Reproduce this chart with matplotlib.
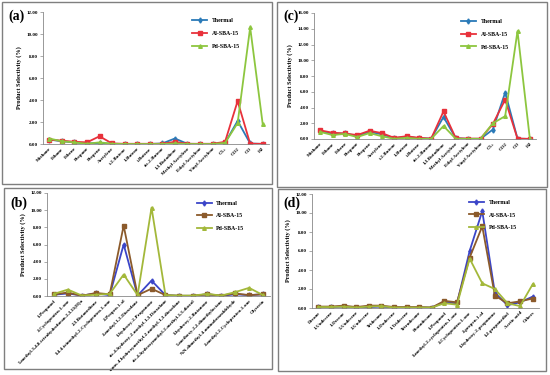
import numpy as np
import matplotlib
matplotlib.use('Agg')
import matplotlib.pyplot as plt
from matplotlib.patches import Rectangle
from matplotlib.ticker import FormatStrFormatter

plt.rcParams['font.family'] = ['Liberation Serif', 'DejaVu Serif']

W, H = 550, 375

# ---- panel (a) ----
cats_a = ['Methane', 'Ethane', 'Ethene', 'Propane', 'Propene', 'Acetylene',
          't-2-Butene', '1-Butene', 'i-Butene', 'cis-2-Butene', '1,3-Butadiene',
          'Methyl Acetylene', 'Ethyl Acetylene', 'Vinyl Acetylene', 'C5+',
          'CO2', 'CO', 'H2']
thermal_a = [0.4, 0.25, 0.15, 0.05, 0.1, 0.02, 0.0, 0.0, 0.0, 0.05, 0.5,
             0.02, 0.0, 0.0, 0.1, 2.1, 0.05, 0.0]
al_a = [0.4, 0.3, 0.2, 0.15, 0.7, 0.05, 0.02, 0.02, 0.02, 0.02, 0.2,
        0.02, 0.02, 0.02, 0.2, 3.9, 0.02, 0.02]
pd_a = [0.5, 0.25, 0.15, 0.02, 0.15, 0.02, 0.0, 0.0, 0.0, 0.0, 0.05,
        0.0, 0.0, 0.0, 0.1, 1.9, 10.6, 1.8]

# ---- panel (c) ----
cats_c = cats_a
thermal_c = [1.0, 0.7, 0.7, 0.4, 0.9, 0.6, 0.1, 0.3, 0.1, 0.05, 2.8,
             0.1, 0.02, 0.02, 1.2, 5.9, 0.05, 0.0]
al_c = [1.1, 0.8, 0.7, 0.5, 1.05, 0.75, 0.15, 0.35, 0.15, 0.05, 3.5,
        0.1, 0.05, 0.05, 1.9, 5.0, 0.05, 0.02]
pd_c = [0.9, 0.5, 0.65, 0.25, 0.75, 0.35, 0.02, 0.15, 0.02, 0.02, 1.65,
        0.02, 0.02, 0.02, 2.0, 2.9, 13.7, 0.05]

# ---- panel (b) ----
cats_b = ['1-Propanol', '2-Cyclopenten-1-one',
          '5-methyl-3,4,8-tetrahydrofuran-2,3,11(H)a',
          '2,3-Butanedione', '3,4,4-trimethyl-2-Cyclopenten-1-one',
          '2-Propen-1-ol', '2-methyl-1,3-Dioxolane', '1-hydroxy-2-Propanone',
          'cis-4-hydroxy-2-methyl-1,3-Dioxolane',
          'trans-4-hydroxymethyl-2-methyl-1,3-dioxolane',
          'cis-4-hydroxymethyl-2-methyl-1,3-dioxol',
          '3-hydroxy-2-Butanone', '5-methoxy-2,2-dimethyloctane',
          'N,N-dimethyl-4-aminobenzaldehyde', '2-methyl-2-Cyclopenten-1-one',
          'Glycerin']
thermal_b = [0.15, 0.3, 0.05, 0.3, 0.1, 6.0, 0.05, 1.8, 0.1, 0.02, 0.02,
             0.2, 0.02, 0.2, 0.1, 0.2]
al_b = [0.2, 0.4, 0.02, 0.35, 0.2, 8.2, 0.1, 0.85, 0.1, 0.02, 0.02,
        0.2, 0.05, 0.3, 0.1, 0.2]
pd_b = [0.25, 0.75, 0.05, 0.15, 0.25, 2.5, 0.1, 10.3, 0.1, 0.05, 0.05,
        0.25, 0.05, 0.45, 0.95, 0.1]

# ---- panel (d) ----
cats_d = ['Decane', '1-Undecene', '1-Decene', '5-Undecene', '3-Undecene',
          'Tridecane', '1-Dodecene', '1-Tridecene', 'Tetradecane',
          'Pentadecane', '1-Propanol', '3-methyl-2-cyclopenten-1-one',
          '2-Cyclopenten-1-one', '2-propen-1-ol', '1-hydroxy-2-propanone',
          '1,2-propanediol', 'Acetic acid', 'Others']
thermal_d = [0.1, 0.1, 0.15, 0.05, 0.1, 0.15, 0.05, 0.05, 0.05, 0.05,
             0.6, 0.5, 6.0, 10.2, 1.6, 0.3, 0.6, 1.2]
al_d = [0.15, 0.15, 0.25, 0.1, 0.25, 0.25, 0.1, 0.1, 0.1, 0.05,
        0.75, 0.6, 5.3, 8.6, 1.3, 0.5, 0.7, 1.0]
pd_d = [0.1, 0.1, 0.15, 0.05, 0.15, 0.2, 0.05, 0.05, 0.05, 0.05,
        0.5, 0.35, 5.2, 2.6, 2.0, 0.5, 0.2, 2.5]

names = ['Thermal', 'Al-SBA-15', 'Pd-SBA-15']
markers = ['d', 's', '^']
colors_top = ['#2a7ab8', '#e8313b', '#8dc63f']
colors_bot = ['#3b45c8', '#8b5a2b', '#a3b83a']


def rect(x0, y0, x1, y1):
    return [x0 / W, 1 - y1 / H, (x1 - x0) / W, (y1 - y0) / H]


fig = plt.figure(figsize=(W / 100, H / 100), dpi=100)

# panel frames
for (x0, y0, x1, y1) in [(2, 2, 272, 184), (277, 2, 547, 187),
                         (4, 188, 272, 369), (278, 189, 546, 371)]:
    fig.patches.append(Rectangle((x0 / W, 1 - y1 / H), (x1 - x0) / W,
                                 (y1 - y0) / H, transform=fig.transFigure,
                                 fill=False, edgecolor='#7f7f7f', lw=1.0))


def panel(box, cats, series, colors, ymax, letter, leg_pos):
    ax = fig.add_axes(rect(*box))
    x = np.arange(len(cats))
    for vals, name, m, c in zip(series, names, markers, colors):
        ax.plot(x, vals, color=c, lw=1.3, marker=m, ms=2.6,
                mec=c, mfc=c, label=name)
    ax.set_xlim(-0.5, len(cats) - 0.5)
    ax.set_ylim(0, ymax)
    ax.set_yticks(np.arange(0, ymax + 0.1, 2))
    ax.yaxis.set_major_formatter(FormatStrFormatter('%.2f'))
    ax.set_xticks(x)
    ax.set_xticklabels(cats, rotation=45, ha='right', rotation_mode='anchor',
                       fontsize=3.6, fontweight='bold')
    for lab in ax.get_yticklabels():
        lab.set_fontsize(3.6)
        lab.set_fontweight('bold')
    ax.tick_params(axis='x', length=0, pad=2)
    ax.tick_params(axis='y', length=2, width=0.5, pad=1.5, color='#888888')
    ax.spines['top'].set_visible(False)
    ax.spines['right'].set_visible(False)
    ax.spines['left'].set_color('#888888')
    ax.spines['bottom'].set_color('#888888')
    ax.spines['left'].set_linewidth(0.6)
    ax.spines['bottom'].set_linewidth(0.6)
    ax.patch.set_alpha(0)
    ax.set_ylabel('Product Selectivity (%)', fontsize=4.5, fontweight='bold',
                  labelpad=3)
    leg = ax.legend(loc='upper left', bbox_to_anchor=leg_pos, frameon=False,
                    fontsize=4.2, handlelength=2.6, labelspacing=1.3,
                    borderaxespad=0)
    for t in leg.get_texts():
        t.set_fontweight('bold')
    fx = (box[0] - 0) / W
    return ax


panel((43, 12, 269, 144), cats_a, [thermal_a, al_a, pd_a], colors_top, 12,
      '(a)', (0.65, 0.97))
panel((314, 13, 536, 139), cats_c, [thermal_c, al_c, pd_c], colors_top, 16,
      '(c)', (0.65, 0.97))
panel((47, 193, 270, 296), cats_b, [thermal_b, al_b, pd_b], colors_bot, 12,
      '(b)', (0.66, 0.95))
panel((312, 194, 539, 308), cats_d, [thermal_d, al_d, pd_d], colors_bot, 12,
      '(d)', (0.68, 0.97))

for lab, (px, py) in zip(['(a)', '(c)', '(b)', '(d)'],
                         [(8, 16), (283, 16), (10, 203), (283, 203)]):
    fig.text(px / W, 1 - py / H, lab, fontsize=10, fontweight='bold',
             va='center', ha='left')

fig.savefig('out.png', dpi=100)
